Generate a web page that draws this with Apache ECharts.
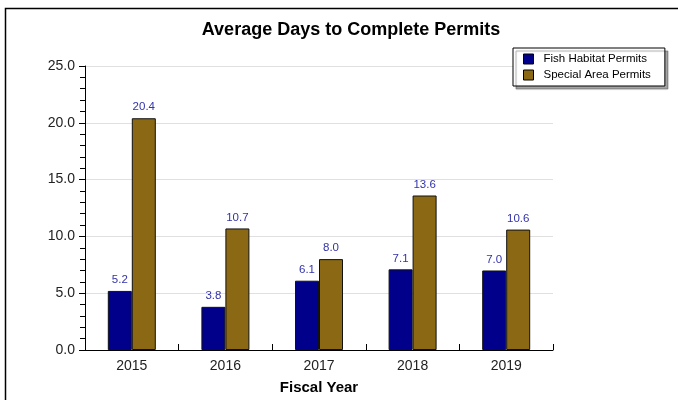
<!DOCTYPE html>
<html><head><meta charset="utf-8">
<script src="https://cdn.jsdelivr.net/npm/echarts@6/dist/echarts.min.js"></script>
<style>html,body{margin:0;padding:0;background:#fff}#c{width:678px;height:400px}</style>
</head><body><div id="c"></div>
<script>
const categories = ['2015','2016','2017','2018','2019'];
const fishHabitat = [5.2, 3.8, 6.1, 7.1, 7.0];
const specialArea = [20.4, 10.7, 8.0, 13.6, 10.6];
const seriesNames = ['Fish Habitat Permits','Special Area Permits'];
const FONT = '"Liberation Sans", Arial, sans-serif';
const chart = echarts.init(document.getElementById('c'));
const labelCfg = {show:true, position:'top', distance:5, color:'#3333aa', fontSize:11.5, fontFamily:FONT, formatter:p=>p.value.toFixed(1)};
chart.setOption({
  animation:false,
  graphic:[{type:'polyline', shape:{points:[[5.5,400],[5.5,8.5],[678,8.5]]}, style:{stroke:'#000', lineWidth:1.5, fill:null}}],
  title:{text:'Average Days to Complete Permits', left:346, textAlign:'center', top:16,
    textStyle:{fontFamily:FONT, fontSize:18, fontWeight:'bold', color:'#000'}},
  legend:{orient:'vertical', left:513, top:48, itemWidth:10, itemHeight:10, itemGap:4,
    padding:[5,14,5,10], backgroundColor:'#fff', borderColor:'#000', borderWidth:1,
    shadowColor:'rgba(0,0,0,0.35)', shadowOffsetX:3, shadowOffsetY:3, shadowBlur:1,
    textStyle:{fontFamily:FONT, fontSize:11.5, color:'#000', padding:[0,0,0,5]},
    data:seriesNames.map(n=>({name:n, icon:'rect', itemStyle:{borderColor:'#000', borderWidth:1}}))},
  grid:{left:85, right:125, top:66, bottom:49},
  xAxis:{type:'category', data:categories, name:'Fiscal Year', nameLocation:'middle', nameGap:30,
    nameTextStyle:{fontFamily:FONT, fontSize:15, fontWeight:'bold', color:'#000'},
    axisLine:{lineStyle:{color:'#000', width:1}},
    axisTick:{show:true, inside:true, length:6, alignWithLabel:false, lineStyle:{color:'#000'}},
    axisLabel:{fontFamily:FONT, fontSize:14, color:'#222', margin:9}},
  yAxis:{type:'value', min:0, max:25, interval:5,
    axisLine:{show:true, lineStyle:{color:'#000'}},
    axisTick:{show:true, length:6, lineStyle:{color:'#000'}},
    minorTick:{show:true, splitNumber:5, length:5, lineStyle:{color:'#000'}},
    splitLine:{lineStyle:{color:'#e0e0e0'}},
    axisLabel:{fontFamily:FONT, fontSize:14, color:'#222', margin:10, formatter:v=>v.toFixed(1)}},
  series:[
    {name:seriesNames[0], type:'bar', data:fishHabitat, barWidth:24, barGap:'0%',
      itemStyle:{color:'#00008b', borderColor:'#111', borderWidth:1}, label:labelCfg},
    {name:seriesNames[1], type:'bar', data:specialArea, barWidth:24, barGap:'0%',
      itemStyle:{color:'#8b6914', borderColor:'#111', borderWidth:1}, label:labelCfg}
  ]
});
</script></body></html>
